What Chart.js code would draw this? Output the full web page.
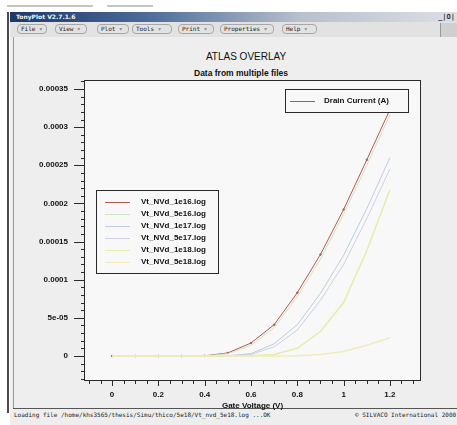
<!DOCTYPE html>
<html lang="en">
<head>
<meta charset="UTF-8">
<title>TonyPlot</title>
<script src="https://cdn.jsdelivr.net/npm/chart.js"></script>
<style>
    body {
        margin: 0;
        width: 457px;
        height: 425px;
        overflow: hidden;
        background: #ffffff;
        position: relative;
        font-family: "Liberation Sans", Arial, sans-serif;
    }
    .abs { position: absolute; }
    .stub { top: 5px; height: 2px; background: #c4c4c4; }
    .titlebar {
        left: 10px; top: 12px; width: 447px; height: 10px;
        background: linear-gradient(to right, #1b3868 0%, #4a6a98 30%, #b8c0cc 65%, #dcdfe4 100%);
    }
    .titlebar span {
        position: absolute; left: 6px; top: 1px;
        color: #f4f4f4; font: bold 6px "DejaVu Sans", sans-serif; line-height: 8px;
    }
    .winbtns {
        right: 2px; top: 12px; height: 10px;
        font: bold 7px "DejaVu Sans Mono", monospace; line-height: 10px; color: #333;
    }
    .menubar { left: 10px; top: 22px; width: 447px; height: 15px; background: #e2e2e2; }
    .menu {
        top: 24px; height: 8px;
        border: 1px solid #a8a8a8; border-radius: 4px;
        font: 6px "DejaVu Sans Mono", monospace; line-height: 8px;
        color: #222; padding-left: 3px; white-space: nowrap; overflow: hidden;
    }
    .menuright { left: 440px; top: 23px; width: 17px; height: 14px; background: #cfcfcf; border-left: 1px solid #999; }
    .body { left: 10px; top: 37px; width: 447px; height: 388px; background: #eeeeee; }
    .edge { left: 7px; top: 12px; width: 2px; height: 401px; background: #4a4a4a; }
    .inner { left: 13px; top: 37px; width: 1px; height: 371px; background: #9a9a9a; }
    .bottomline { left: 13px; top: 408px; width: 444px; height: 1px; background: #555; }
    .status {
        top: 411px; height: 8px;
        font: 6px "DejaVu Sans Mono", monospace; line-height: 8px; color: #222; white-space: nowrap;
    }
    .heading { width: 200px; text-align: center; color: #111; white-space: nowrap; }
    #plotBox { left: 10px; top: 40px; width: 447px; height: 375px; }
</style>
</head>
<body>
    <div class="abs stub" style="left:7px;width:86px"></div>
    <div class="abs stub" style="left:107px;width:46px"></div>

    <div class="abs body"></div>
    <div class="abs titlebar"><span>TonyPlot V2.7.1.6</span></div>
    <div class="abs winbtns">_|O|</div>
    <div class="abs menubar"></div>
    <div class="abs menu" style="left:17px;width:25px">File ▿</div>
    <div class="abs menu" style="left:55px;width:27px">View ▿</div>
    <div class="abs menu" style="left:97px;width:27px">Plot ▿</div>
    <div class="abs menu" style="left:132px;width:35px">Tools ▿</div>
    <div class="abs menu" style="left:178px;width:31px">Print ▿</div>
    <div class="abs menu" style="left:220px;width:49px">Properties ▿</div>
    <div class="abs menu" style="left:282px;width:30px">Help ▿</div>
    <div class="abs menuright"></div>
    <div class="abs edge"></div>
    <div class="abs inner"></div>
    <div class="abs bottomline"></div>
    <div class="abs status" style="left:14px">Loading file /home/khs3565/thesis/Simu/thico/5e18/Vt_nvd_5e18.log ...OK</div>
    <div class="abs status" style="left:355px">© SILVACO International 2000</div>

    <div class="abs heading" style="left:146px;top:51px;font-size:10px;line-height:12px">ATLAS OVERLAY</div>
    <div class="abs heading" style="left:141px;top:68px;font-size:8.5px;line-height:10px;font-weight:bold">Data from multiple files</div>

    <div class="abs" id="plotBox"><canvas id="ivChart"></canvas></div>

<script>
    // gate sweep (V) and drain current (A) for each doping level
    const gateVoltage = [0, 0.1, 0.2, 0.3, 0.4, 0.5, 0.6, 0.7, 0.8, 0.9, 1.0, 1.1, 1.2];
    const id1e16 = [0, 0, 0, 0, 2e-7, 4e-6, 1.7e-5, 4.1e-5, 8.3e-5, 1.33e-4, 1.92e-4, 2.57e-4, 3.23e-4];
    const id5e16 = [0, 0, 0, 0, 1e-7, 3e-6, 1.4e-5, 3.7e-5, 7.8e-5, 1.27e-4, 1.86e-4, 2.5e-4, 3.16e-4];
    const id1e17 = [0, 0, 0, 0, 0, 3e-7, 3e-6, 1.6e-5, 4.1e-5, 8.2e-5, 1.32e-4, 1.93e-4, 2.6e-4];
    const id5e17 = [0, 0, 0, 0, 0, 2e-7, 2e-6, 1.2e-5, 3.4e-5, 7.3e-5, 1.2e-4, 1.8e-4, 2.45e-4];
    const id1e18 = [0, 0, 0, 0, 0, 0, 2e-7, 2e-6, 1e-5, 3.2e-5, 7e-5, 1.38e-4, 2.18e-4];
    const id5e18 = [0, 0, 0, 0, 0, 0, 0, 0, 3e-7, 2e-6, 6e-6, 1.4e-5, 2.4e-5];

    const fileNames = ['Vt_NVd_1e16.log', 'Vt_NVd_5e16.log', 'Vt_NVd_1e17.log',
                       'Vt_NVd_5e17.log', 'Vt_NVd_1e18.log', 'Vt_NVd_5e18.log'];
    const quantityLabel = 'Drain Current (A)';

    const xTickValues = [0, 0.2, 0.4, 0.6, 0.8, 1, 1.2];
    const xTickLabels = ['0', '0.2', '0.4', '0.6', '0.8', '1', '1.2'];
    const yTickValues = [0, 5e-5, 1e-4, 1.5e-4, 2e-4, 2.5e-4, 3e-4, 3.5e-4];
    const yTickLabels = ['0', '5e-05', '0.0001', '0.00015', '0.0002', '0.00025', '0.0003', '0.00035'];

    const curves = [id1e16, id5e16, id1e17, id5e17, id1e18, id5e18];
    const colors = ['#b35a4c', '#d2e2c2', '#b9cfdc', '#cdd0ea', '#e8ecaa', '#f0ecbc'];

    function labelFor(v, values, labels, eps) {
        const i = values.findIndex(t => Math.abs(t - v) < eps);
        return i >= 0 ? labels[i] : '';
    }

    const font8 = { family: '"Liberation Sans", Arial, sans-serif', size: 8, weight: 'bold' };

    // frame, outside tick marks and the two legend boxes
    const plotFrame = {
        id: 'plotFrame',
        beforeDatasetsDraw(chart) {
            const { ctx, chartArea: a } = chart;
            ctx.save();
            ctx.fillStyle = '#f8f8f8';
            ctx.fillRect(a.left, a.top, a.width, a.height);
            ctx.restore();
        },
        afterDatasetsDraw(chart) {
            const { ctx, chartArea: a, scales: { x, y } } = chart;
            ctx.save();
            ctx.strokeStyle = '#2a2a2a';
            ctx.lineWidth = 1;
            ctx.strokeRect(a.left - 0.5, a.top - 0.5, a.width + 1, a.height + 1);

            ctx.beginPath();
            y.ticks.forEach(t => {
                const py = Math.round(y.getPixelForValue(t.value)) + 0.5;
                const len = labelFor(t.value, yTickValues, yTickLabels, 1e-9) ? 11 : 4;
                ctx.moveTo(a.left - len, py);
                ctx.lineTo(a.left, py);
            });
            x.ticks.forEach(t => {
                const px = Math.round(x.getPixelForValue(t.value)) + 0.5;
                const len = labelFor(t.value, xTickValues, xTickLabels, 1e-6) ? 6 : 4;
                ctx.moveTo(px, a.bottom);
                ctx.lineTo(px, a.bottom + len);
            });
            ctx.stroke();

            ctx.font = 'bold 8px "Liberation Sans", Arial, sans-serif';
            ctx.textBaseline = 'middle';

            // quantity legend
            let bx = a.left + 200, by = a.top + 8;
            ctx.fillStyle = '#f8f8f8';
            ctx.fillRect(bx, by, 123, 23);
            ctx.strokeRect(bx + 0.5, by + 0.5, 123, 23);
            ctx.strokeStyle = colors[0];
            ctx.beginPath();
            ctx.moveTo(bx + 5, by + 12.5);
            ctx.lineTo(bx + 30, by + 12.5);
            ctx.stroke();
            ctx.fillStyle = '#111';
            ctx.fillText(quantityLabel, bx + 39, by + 12);

            // file legend
            bx = a.left + 11; by = a.top + 109;
            ctx.strokeStyle = '#2a2a2a';
            ctx.fillStyle = '#f8f8f8';
            ctx.fillRect(bx, by, 122, 83);
            ctx.strokeRect(bx + 0.5, by + 0.5, 122, 83);
            chart.data.datasets.forEach((ds, i) => {
                const ly = by + 12 + i * 12;
                ctx.strokeStyle = ds.borderColor;
                ctx.beginPath();
                ctx.moveTo(bx + 9, ly + 0.5);
                ctx.lineTo(bx + 34, ly + 0.5);
                ctx.stroke();
                ctx.fillStyle = '#111';
                ctx.fillText(ds.label, bx + 45, ly);
            });
            ctx.restore();
        }
    };

    new Chart(document.getElementById('ivChart'), {
        type: 'line',
        data: {
            // later files are painted over earlier ones
            datasets: curves.map((c, i) => ({
                label: fileNames[i],
                data: c.map((v, k) => ({ x: gateVoltage[k], y: v })),
                borderColor: colors[i],
                backgroundColor: colors[i],
                borderWidth: i >= 4 ? 1.5 : 1,
                pointRadius: i === 0 ? 0.8 : 0,
                tension: 0,
                order: -i
            }))
        },
        options: {
            responsive: true,
            maintainAspectRatio: false,
            animation: false,
            layout: { padding: { left: 0, right: 37, top: 41, bottom: 0 } },
            plugins: {
                legend: { display: false },
                tooltip: { enabled: false }
            },
            scales: {
                x: {
                    type: 'linear',
                    min: -0.117,
                    max: 1.33,
                    grid: { display: false },
                    border: { display: false },
                    afterFit(s) { s.height = 35; },
                    ticks: {
                        stepSize: 0.05,
                        includeBounds: false,
                        autoSkip: false,
                        maxRotation: 0,
                        padding: 2,
                        color: '#111',
                        font: font8,
                        callback: v => labelFor(v, xTickValues, xTickLabels, 1e-6)
                    },
                    title: {
                        display: true,
                        text: 'Gate Voltage (V)',
                        color: '#111',
                        font: font8,
                        padding: { top: 0, bottom: 4 }
                    }
                },
                y: {
                    min: -3.15e-5,
                    max: 3.605e-4,
                    grid: { display: false },
                    border: { display: false },
                    afterFit(s) { s.width = 75; },
                    ticks: {
                        stepSize: 1e-5,
                        includeBounds: false,
                        autoSkip: false,
                        padding: 9,
                        color: '#111',
                        font: font8,
                        callback: v => labelFor(v, yTickValues, yTickLabels, 1e-9)
                    }
                }
            }
        },
        plugins: [plotFrame]
    });
</script>
</body>
</html>
